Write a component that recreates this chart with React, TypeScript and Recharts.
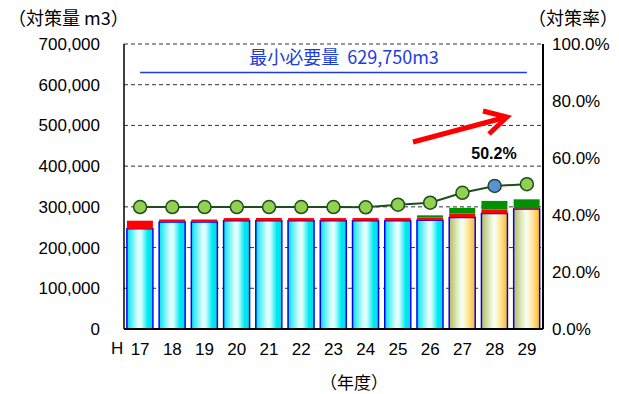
import { ComposedChart, Bar, Line, XAxis, YAxis, CartesianGrid, Cell, ReferenceLine } from 'recharts';

// 年度 (H17〜H29)
const years = ['17', '18', '19', '20', '21', '22', '23', '24', '25', '26', '27', '28', '29'];
// 実績 / 計画
const phase = ['actual', 'actual', 'actual', 'actual', 'actual', 'actual', 'actual', 'actual', 'actual', 'actual', 'plan', 'plan', 'plan'];
// 対策量 (m3)
const baseAmount = [246000, 263000, 263000, 266000, 266000, 266000, 266000, 266000, 266000, 267000, 274000, 283500, 295000];
const redAmount = [20000, 6000, 6000, 6500, 6500, 6500, 6500, 6500, 6500, 6700, 9800, 9900, 1500];
const greenAmount = [0, 0, 0, 0, 0, 0, 0, 0, 0, 5500, 13800, 21200, 22000];
// 対策率 (%)
const rate = [42.8, 42.8, 42.8, 42.8, 42.8, 42.8, 42.8, 42.7, 43.6, 44.3, 47.8, 50.2, 50.8];
const highlightYear = '28';

const leftTicks = [0, 100000, 200000, 300000, 400000, 500000, 600000, 700000];
const rightTicks = [0, 20, 40, 60, 80, 100];
const minRequired = 629750;

const data = years.map((y, i) => ({
  year: y,
  base: baseAmount[i],
  red: redAmount[i],
  green: greenAmount[i],
  rate: rate[i],
}));

const jp = '"Noto Sans CJK JP", "Noto Sans", sans-serif';
const num = '"Liberation Sans", Arial, sans-serif';

const RateDot = (props: any) => {
  const { cx, cy, payload } = props;
  if (cx == null || cy == null) return null;
  const hl = payload.year === highlightYear;
  return <circle cx={cx} cy={cy} r={6.5} fill={hl ? '#5b8fd6' : '#92d050'} stroke="#1e4d1e" strokeWidth={1.5} />;
};

export default function App() {
  return (
    <div style={{ position: 'absolute', left: 0, top: 0, width: 619, height: 394, background: '#fff', fontFamily: jp }}>
      <ComposedChart
        width={619}
        height={394}
        data={data}
        margin={{ top: 44, right: 0, bottom: 0, left: 0 }}
        barCategoryGap="9%"
      >
        <defs>
          <linearGradient id="cyanFill" x1="0" y1="0" x2="1" y2="0">
            <stop offset="0" stopColor="#00e4ee" />
            <stop offset="0.45" stopColor="#e6ffff" />
            <stop offset="0.55" stopColor="#d8ffff" />
            <stop offset="0.8" stopColor="#00eaf2" />
            <stop offset="1" stopColor="#00dce8" />
          </linearGradient>
          <linearGradient id="goldFill" x1="0" y1="0" x2="1" y2="0">
            <stop offset="0" stopColor="#b8b860" />
            <stop offset="0.35" stopColor="#e2f2cc" />
            <stop offset="0.5" stopColor="#f8fff2" />
            <stop offset="0.72" stopColor="#ffe6a0" />
            <stop offset="1" stopColor="#ffb820" />
          </linearGradient>
        </defs>
        <CartesianGrid yAxisId="left" vertical={false} stroke="#333" strokeDasharray="4 3" />
        <XAxis
          dataKey="year"
          height={65}
          tickLine={false}
          axisLine={{ stroke: '#000', strokeWidth: 2 }}
          tick={{ fill: '#000', fontSize: 17, fontFamily: num }}
          tickMargin={14}
          tickSize={0}
        />
        <YAxis
          yAxisId="left"
          width={124}
          domain={[0, 700000]}
          ticks={leftTicks}
          tickFormatter={(v: number) => v.toLocaleString('en-US')}
          tickLine={false}
          tickSize={0}
          tickMargin={24}
          axisLine={{ stroke: '#000', strokeWidth: 1.5 }}
          tick={{ fill: '#000', fontSize: 17, fontFamily: num }}
        />
        <YAxis
          yAxisId="right"
          orientation="right"
          width={76}
          domain={[0, 100]}
          ticks={rightTicks}
          tickFormatter={(v: number) => `${v.toFixed(1)}%`}
          tickLine={false}
          tickSize={0}
          tickMargin={9}
          axisLine={{ stroke: '#000', strokeWidth: 2 }}
          tick={{ fill: '#000', fontSize: 17, fontFamily: num }}
        />
        <Bar yAxisId="left" dataKey="base" stackId="a" stroke="#0000ff" strokeWidth={1.5} isAnimationActive={false}>
          {data.map((d, i) => (
            <Cell key={d.year} fill={phase[i] === 'plan' ? 'url(#goldFill)' : 'url(#cyanFill)'} />
          ))}
        </Bar>
        <Bar yAxisId="left" dataKey="red" stackId="a" fill="#ff0000" isAnimationActive={false} />
        <Bar yAxisId="left" dataKey="green" stackId="a" fill="#009000" isAnimationActive={false} />
        <ReferenceLine
          yAxisId="left"
          segment={[{ x: years[0], y: minRequired }, { x: years[years.length - 1], y: minRequired }]}
          stroke="#1a3ce0"
          strokeWidth={1.5}
        />
        <Line
          yAxisId="right"
          dataKey="rate"
          stroke="#1e4d1e"
          strokeWidth={2}
          dot={<RateDot />}
          activeDot={false}
          isAnimationActive={false}
        />
      </ComposedChart>
      <svg width={619} height={394} style={{ position: 'absolute', left: 0, top: 0, pointerEvents: 'none' }}>
        <text x={8} y={25} fontSize={18} fill="#000" fontFamily={jp}>（対策量 m3）</text>
        <text x={528} y={25} fontSize={18} fill="#000" fontFamily={jp}>（対策率）</text>
        <text x={344} y={64} fontSize={18} fill="#1a3ce0" fontFamily={jp} textAnchor="middle">
          最小必要量{'\u00a0\u00a0'}629,750m3
        </text>
        <text x={111} y={354} fontSize={17} fill="#000" fontFamily={num}>H</text>
        <text x={354} y={389} fontSize={17} fill="#000" fontFamily={jp} textAnchor="middle">（年度）</text>
        <line x1={413} y1={142} x2={503} y2={118} stroke="#ff0000" strokeWidth={5} />
        <polyline points="483,111 507,117 489,134" fill="none" stroke="#ff0000" strokeWidth={5} strokeLinejoin="miter" />
        <text x={494} y={159} fontSize={16} fontWeight="bold" fill="#000" fontFamily={num} textAnchor="middle">50.2%</text>
      </svg>
    </div>
  );
}
